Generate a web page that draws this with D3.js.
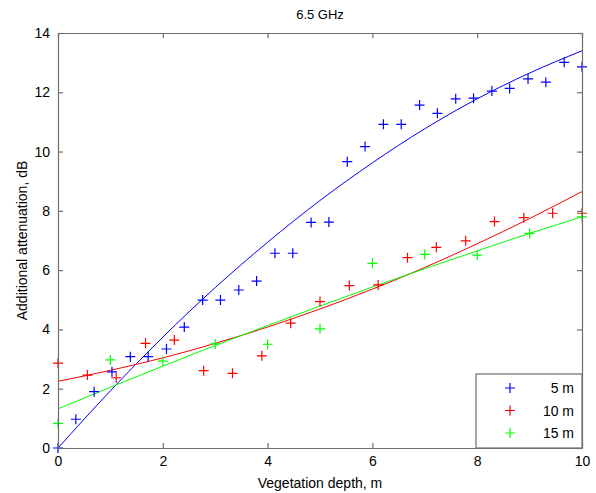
<!DOCTYPE html>
<html>
<head>
<meta charset="utf-8">
<script src="https://cdn.jsdelivr.net/npm/d3@7"></script>
<style>
    body { margin: 0; background: #fff; }
    svg { font-family: "Liberation Sans", Arial, sans-serif; }
</style>
</head>
<body>
<div id="chart1"><svg width="596" height="493"></svg></div>
<script>
const SVG1 = d3.select('#chart1 svg');

// plot box (pixels)
const LEFT = 58, RIGHT = 582, TOP = 33, BOTTOM = 448;

// measured points, 5 m
const X_5M = [0, 0.34, 0.69, 1.03, 1.38, 1.72, 2.07, 2.41, 2.76, 3.10, 3.45, 3.79, 4.14, 4.48, 4.83,
    5.17, 5.52, 5.86, 6.21, 6.55, 6.90, 7.24, 7.59, 7.93, 8.28, 8.62, 8.97, 9.31, 9.66, 10];
const Y_5M = [0, 0.97, 1.90, 2.57, 3.08, 3.08, 3.34, 4.08, 4.99, 4.99, 5.33, 5.63, 6.57, 6.57, 7.61,
    7.62, 9.66, 10.17, 10.92, 10.92, 11.57, 11.29, 11.78, 11.80, 12.04, 12.13, 12.45, 12.34, 13.01, 12.86];

// measured points, 10 m
const X_10M = [0, 0.56, 1.11, 1.67, 2.22, 2.78, 3.33, 3.89, 4.44, 5.0, 5.56, 6.11, 6.67, 7.22, 7.78,
    8.33, 8.89, 9.44, 10];
const Y_10M = [2.86, 2.46, 2.37, 3.53, 3.64, 2.61, 2.52, 3.11, 4.21, 4.94, 5.48, 5.50, 6.42, 6.77, 6.99,
    7.64, 7.77, 7.92, 7.92];

// measured points, 15 m
const X_15M = [0, 1, 2, 3, 4, 5, 6, 7, 8, 9, 10];
const Y_15M = [0.83, 2.97, 2.93, 3.51, 3.50, 4.02, 6.23, 6.53, 6.51, 7.24, 7.80];

// fitted curves at x = 0..10
const FIT_X = [0, 1, 2, 3, 4, 5, 6, 7, 8, 9, 10];
const FIT_5M = [0, 1.93, 3.74, 5.41, 6.94, 8.35, 9.62, 10.77, 11.78, 12.65, 13.4];
const FIT_10M = [2.25, 2.62, 3.04, 3.53, 4.08, 4.69, 5.36, 6.09, 6.89, 7.74, 8.65];
const FIT_15M = [1.32, 2.05, 2.76, 3.46, 4.13, 4.79, 5.43, 6.05, 6.65, 7.24, 7.8];

const X_TICKS = [0, 2, 4, 6, 8, 10];
const Y_TICKS = [0, 2, 4, 6, 8, 10, 12, 14];

const SERIES = [
    { name: '5 m', color: '#0000ff', xs: X_5M, ys: Y_5M, fit: FIT_5M },
    { name: '10 m', color: '#ff0000', xs: X_10M, ys: Y_10M, fit: FIT_10M },
    { name: '15 m', color: '#00ff00', xs: X_15M, ys: Y_15M, fit: FIT_15M }
];

const X_SCALE = d3.scaleLinear().domain([0, 10]).range([LEFT, RIGHT]);
const Y_SCALE = d3.scaleLinear().domain([0, 14]).range([BOTTOM, TOP]);
const AXIS_COLOR = '#6e6e6e';

// plus marker path
const plus = (x, y, r) => `M${x - r},${y}H${x + r}M${x},${y - r}V${y + r}`;

// white plot background
SVG1.append('rect')
    .attr('x', LEFT).attr('y', TOP)
    .attr('width', RIGHT - LEFT).attr('height', BOTTOM - TOP)
    .style('fill', '#fff');

// fitted lines
SVG1.append('g')
    .attr('id', 'fits')
    .selectAll('path')
    .data(SERIES)
    .join('path')
    .attr('d', s => d3.line()
        .x((d, i) => X_SCALE(FIT_X[i]))
        .y(d => Y_SCALE(d))
        .curve(d3.curveMonotoneX)(s.fit))
    .style('fill', 'none')
    .style('stroke', s => s.color)
    .style('stroke-width', 1);

// measured points
SERIES.forEach(s => {
    SVG1.append('g')
        .selectAll('path')
        .data(s.ys)
        .join('path')
        .attr('d', (d, i) => plus(X_SCALE(s.xs[i]), Y_SCALE(d), 5))
        .style('fill', 'none')
        .style('stroke', s.color)
        .style('stroke-width', 1.2);
});

// axes: bottom / left with labels, top / right mirror ticks, all inward
const X_AXIS = d3.axisBottom(X_SCALE).tickValues(X_TICKS).tickSizeInner(-5).tickSizeOuter(0).tickPadding(8);
const Y_AXIS = d3.axisLeft(Y_SCALE).tickValues(Y_TICKS).tickSizeInner(-5).tickSizeOuter(0).tickPadding(8);
const X_TOP = d3.axisTop(X_SCALE).tickValues(X_TICKS).tickSizeInner(-5).tickSizeOuter(0).tickFormat('');
const Y_RIGHT = d3.axisRight(Y_SCALE).tickValues(Y_TICKS).tickSizeInner(-5).tickSizeOuter(0).tickFormat('');

const styleAxis = g => {
    g.selectAll('path, line').style('stroke', AXIS_COLOR).style('stroke-width', 1.2);
    g.selectAll('text').style('fill', '#000').style('font-size', '14px')
        .style('font-family', '"Liberation Sans", Arial, sans-serif');
};

SVG1.append('g').attr('transform', `translate(0,${BOTTOM})`).call(X_AXIS).call(styleAxis);
SVG1.append('g').attr('transform', `translate(${LEFT},0)`).call(Y_AXIS).call(styleAxis);
SVG1.append('g').attr('transform', `translate(0,${TOP})`).call(X_TOP).call(styleAxis);
SVG1.append('g').attr('transform', `translate(${RIGHT},0)`).call(Y_RIGHT).call(styleAxis);

// titles
SVG1.append('text')
    .attr('x', (LEFT + RIGHT) / 2).attr('y', 19)
    .style('text-anchor', 'middle').style('font-size', '13px')
    .text('6.5 GHz');

SVG1.append('text')
    .attr('x', (LEFT + RIGHT) / 2).attr('y', 488)
    .style('text-anchor', 'middle').style('font-size', '14px')
    .text('Vegetation depth, m');

SVG1.append('text')
    .attr('transform', `translate(27,${(TOP + BOTTOM) / 2}) rotate(-90)`)
    .style('text-anchor', 'middle').style('font-size', '14px')
    .text('Additional attenuation, dB');

// legend box in bottom-right corner
const LEGEND = SVG1.append('g').attr('id', 'legend');
LEGEND.append('rect')
    .attr('x', 476).attr('y', 374)
    .attr('width', RIGHT - 476).attr('height', BOTTOM - 374)
    .style('fill', '#fff')
    .style('stroke', AXIS_COLOR)
    .style('stroke-width', 1.2);

LEGEND.selectAll('path')
    .data(SERIES)
    .join('path')
    .attr('d', (s, i) => plus(510, 388 + i * 22.5, 5))
    .style('fill', 'none')
    .style('stroke', s => s.color)
    .style('stroke-width', 1.2);

LEGEND.selectAll('text')
    .data(SERIES)
    .join('text')
    .attr('x', 574)
    .attr('y', (s, i) => 393 + i * 22.5)
    .style('text-anchor', 'end')
    .style('font-size', '14px')
    .text(s => s.name);
</script>
</body>
</html>
